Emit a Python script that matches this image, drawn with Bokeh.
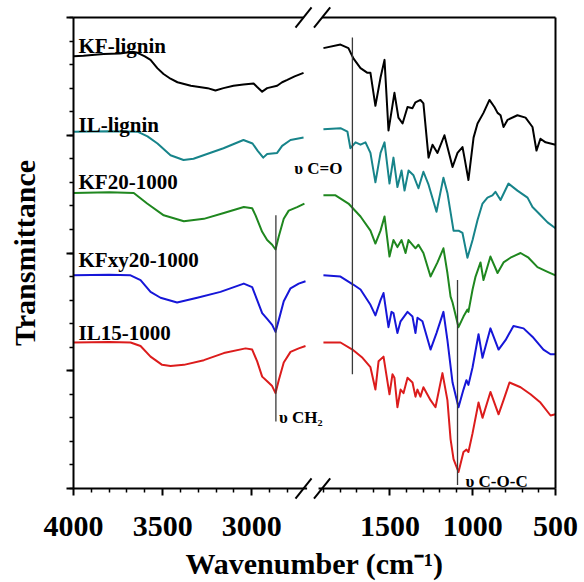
from bokeh.plotting import figure
from bokeh.models import (Range1d, LinearAxis, SingleIntervalTicker, FixedTicker, Label,
                          CustomJSTickFormatter)
from bokeh.embed import file_html
from bokeh.resources import INLINE

# ---------------- data (wavenumber cm-1, transmittance, offset stacked) ----------------
names = ["KF-lignin", "IL-lignin", "KF20-1000", "KFxy20-1000", "IL15-1000"]

kf_lw = [4000, 3944, 3832, 3740, 3669, 3641, 3600, 3568, 3530, 3495, 3456, 3417, 3342, 3248,
         3204, 3159, 3103, 3047, 2990, 2970, 2942, 2914, 2858, 2830, 2801, 2760, 2710]
kf_lt = [3.67, 3.675, 3.69, 3.695, 3.71, 3.70, 3.67, 3.64, 3.57, 3.52, 3.48, 3.45, 3.42, 3.40,
         3.38, 3.40, 3.42, 3.43, 3.44, 3.41, 3.37, 3.40, 3.42, 3.45, 3.47, 3.50, 3.53]
kf_rw = [1902, 1799, 1751, 1720, 1678, 1636, 1618, 1588, 1557, 1533, 1509, 1473, 1449, 1424,
         1394, 1364, 1346, 1316, 1298, 1267, 1243, 1213, 1171, 1122, 1092, 1062, 1050, 1026,
         995, 971, 935, 899, 869, 850, 832, 814, 790, 730, 681, 639, 615, 591, 560, 530, 500]
kf_rt = [3.74, 3.77, 3.74, 3.65, 3.57, 3.53, 3.53, 3.25, 3.49, 3.64, 3.04, 3.36, 3.15, 3.10,
         3.24, 3.23, 3.28, 3.30, 3.27, 2.81, 2.92, 2.85, 3.00, 2.73, 2.85, 2.90, 2.81, 2.62,
         2.98, 3.10, 3.19, 3.30, 3.24, 3.19, 3.17, 3.07, 3.13, 3.17, 3.15, 3.07, 2.87, 2.97,
         2.94, 2.93, 2.92]

il_lw = [4000, 3800, 3641, 3585, 3529, 3456, 3383, 3327, 3271, 3159, 3047, 2996, 2968, 2936,
         2914, 2858, 2830, 2783, 2710]
il_lt = [3.03, 3.035, 3.03, 2.99, 2.93, 2.83, 2.79, 2.80, 2.83, 2.89, 2.96, 2.93, 2.87, 2.81,
         2.84, 2.85, 2.91, 2.96, 2.98]
il_rw = [1902, 1799, 1757, 1739, 1708, 1678, 1648, 1618, 1588, 1557, 1533, 1503, 1479, 1455,
         1430, 1412, 1388, 1358, 1328, 1298, 1267, 1219, 1177, 1153, 1116, 1086, 1062, 1032,
         1001, 971, 941, 911, 881, 863, 832, 784, 730, 669, 639, 603, 548, 500]
il_rt = [3.05, 3.06, 3.03, 2.89, 2.94, 2.92, 2.94, 2.85, 2.60, 2.85, 2.94, 2.59, 2.81, 2.56,
         2.70, 2.53, 2.70, 2.66, 2.55, 2.69, 2.58, 2.35, 2.64, 2.51, 2.19, 2.19, 2.17, 1.96,
         2.11, 2.28, 2.42, 2.47, 2.49, 2.52, 2.45, 2.59, 2.53, 2.47, 2.39, 2.34, 2.26, 2.21]

kf20_lw = [4000, 3800, 3662, 3587, 3494, 3381, 3269, 3157, 3045, 2998, 2979, 2942, 2914, 2886,
           2867, 2849, 2821, 2793, 2746, 2705]
kf20_lt = [2.51, 2.515, 2.51, 2.42, 2.32, 2.27, 2.29, 2.34, 2.39, 2.38, 2.32, 2.18, 2.11, 2.07,
           2.03, 2.14, 2.29, 2.36, 2.39, 2.42]
kf20_rw = [1902, 1829, 1751, 1678, 1618, 1588, 1557, 1533, 1503, 1479, 1455, 1430, 1406, 1388,
           1346, 1328, 1298, 1255, 1213, 1177, 1153, 1134, 1122, 1086, 1056, 1032, 1026, 1001,
           983, 953, 935, 893, 850, 814, 772, 711, 663, 609, 548, 500]
kf20_rt = [2.49, 2.49, 2.42, 2.31, 2.19, 2.08, 2.19, 2.31, 1.97, 2.11, 2.05, 2.11, 2.00, 2.11,
           2.04, 2.07, 2.00, 1.80, 1.92, 2.04, 1.83, 1.63, 1.58, 1.37, 1.46, 1.52, 1.50, 1.69,
           1.80, 1.92, 1.77, 1.97, 1.83, 1.92, 1.96, 2.00, 1.96, 1.88, 1.84, 1.81]

kfxy_lw = [4000, 3800, 3680, 3624, 3568, 3512, 3419, 3306, 3176, 3045, 2998, 2970, 2942, 2914,
           2886, 2867, 2849, 2821, 2783, 2737, 2699]
kfxy_lt = [1.81, 1.815, 1.81, 1.77, 1.67, 1.62, 1.58, 1.62, 1.67, 1.74, 1.71, 1.60, 1.49, 1.44,
           1.39, 1.33, 1.43, 1.59, 1.70, 1.74, 1.76]
kfxy_rw = [1902, 1799, 1720, 1678, 1618, 1588, 1557, 1539, 1509, 1491, 1479, 1455, 1436, 1394,
           1364, 1346, 1334, 1304, 1255, 1219, 1177, 1153, 1122, 1086, 1056, 1038, 1026, 1001,
           965, 941, 893, 844, 802, 754, 693, 633, 573, 530, 500]
kfxy_rt = [1.81, 1.80, 1.73, 1.69, 1.56, 1.47, 1.60, 1.66, 1.37, 1.50, 1.49, 1.32, 1.42, 1.50,
           1.46, 1.32, 1.45, 1.42, 1.18, 1.32, 1.50, 1.26, 0.90, 0.69, 0.84, 0.92, 0.88, 1.03,
           1.31, 1.11, 1.36, 1.18, 1.26, 1.38, 1.36, 1.28, 1.18, 1.14, 1.14]

il15_lw = [4000, 3800, 3680, 3624, 3568, 3503, 3456, 3381, 3269, 3157, 3035, 2998, 2970, 2942,
           2914, 2886, 2867, 2849, 2821, 2783, 2737, 2699]
il15_lt = [1.24, 1.245, 1.24, 1.21, 1.12, 1.05, 1.04, 1.05, 1.09, 1.15, 1.19, 1.18, 1.08, 0.95,
           0.91, 0.87, 0.81, 0.92, 1.07, 1.16, 1.19, 1.21]
il15_rw = [1902, 1799, 1727, 1666, 1618, 1588, 1569, 1539, 1503, 1485, 1473, 1455, 1436, 1418,
           1394, 1364, 1346, 1334, 1316, 1298, 1255, 1225, 1183, 1153, 1134, 1116, 1086, 1056,
           1038, 1026, 1001, 965, 941, 893, 844, 814, 778, 711, 651, 591, 530, 500]
il15_rt = [1.24, 1.24, 1.18, 1.11, 1.03, 0.84, 1.08, 1.12, 0.80, 0.97, 0.94, 0.69, 0.84, 0.81,
           0.94, 0.90, 0.78, 0.84, 0.78, 0.86, 0.75, 0.69, 0.98, 0.75, 0.42, 0.25, 0.14, 0.31,
           0.33, 0.31, 0.47, 0.73, 0.60, 0.82, 0.63, 0.75, 0.90, 0.86, 0.80, 0.73, 0.62, 0.63]

# band assignments (wavenumber, vertical extent in transmittance units)
band_labels = ["\u03c5 C=O", "\u03c5 CH\u2082", "\u03c5 C-O-C"]
band_w = [1727, 2865, 1092]
band_lo = [0.97, 0.57, 0.03]
band_hi = [3.83, 2.32, 1.77]

# axis segments and ticks (cm-1)
left_seg = (2710, 4000)
right_seg = (500, 1910)
left_major = [4000, 3500, 3000]
left_minor = [3900, 3800, 3700, 3600, 3400, 3300, 3200, 3100, 2900, 2800]
right_major = [1500, 1000, 500]
right_minor = [1900, 1800, 1700, 1600, 1400, 1300, 1200, 1100, 900, 800, 700, 600]

colors = ["#000000", "#17848a", "#1f871f", "#1616d8", "#dc1c1c"]

FONT = "Liberation Serif"

left_range = Range1d(4000, 1297)
right_range = Range1d(3412, 500)
y_range = Range1d(0, 4)

p = figure(width=584, height=582, output_backend="svg", toolbar_location=None,
           x_range=left_range, y_range=y_range,
           x_axis_type=None, y_axis_type=None,
           min_border_left=73, min_border_right=29, min_border_top=17, min_border_bottom=93)
p.extra_x_ranges = {"right": right_range}
p.outline_line_color = None
p.background_fill_color = "white"
p.border_fill_color = "white"


def right_to_left(w):
    # position of a right-segment wavenumber expressed in the main (left) range
    return left_range.start - (right_range.start - w) * (left_range.start - left_range.end) / (
        right_range.start - right_range.end)


cut = (left_seg[0] + right_to_left(right_seg[1])) / 2

ticker = FixedTicker(ticks=left_major + [right_to_left(w) for w in right_major],
                     minor_ticks=left_minor + [right_to_left(w) for w in right_minor])
formatter = CustomJSTickFormatter(args=dict(lr=left_range, rr=right_range, cut=cut), code="""
    let w = tick;
    if (tick < cut) {
        w = rr.start - (lr.start - tick) * (rr.start - rr.end) / (lr.start - lr.end);
    }
    return (Math.round(w / 100) * 100).toString();
""")

ax_x = LinearAxis(ticker=ticker, formatter=formatter, axis_label="Wavenumber (cm\u207b\u00b9)")
ax_y = LinearAxis(ticker=SingleIntervalTicker(interval=1, num_minor_ticks=5),
                  formatter=CustomJSTickFormatter(code="return '';"),
                  axis_label="Transmittance")
for ax in (ax_x, ax_y):
    ax.axis_line_width = 2
    ax.axis_line_color = "black"
    ax.major_tick_line_width = 2
    ax.minor_tick_line_width = 1.5
    ax.major_tick_out = 7
    ax.major_tick_in = 0
    ax.minor_tick_out = 4
    ax.minor_tick_in = 0
    ax.major_label_text_font = FONT
    ax.major_label_text_font_style = "bold"
    ax.major_label_text_color = "black"
    ax.major_label_text_font_size = "30px"
    ax.axis_label_text_font = FONT
    ax.axis_label_text_font_style = "bold"
    ax.axis_label_text_font_size = "30px"
    ax.axis_label_text_color = "black"
ax_x.major_label_standoff = 21
ax_x.axis_label_standoff = 8
ax_y.major_label_standoff = 0
ax_y.axis_label_standoff = 26
p.add_layout(ax_x, "below")
p.add_layout(ax_y, "left")

# spectra
series = [
    (kf_lw, kf_lt, kf_rw, kf_rt),
    (il_lw, il_lt, il_rw, il_rt),
    (kf20_lw, kf20_lt, kf20_rw, kf20_rt),
    (kfxy_lw, kfxy_lt, kfxy_rw, kfxy_rt),
    (il15_lw, il15_lt, il15_rw, il15_rt),
]
for (lw, lt, rw, rt), col in zip(series, colors):
    p.line(lw, lt, line_color=col, line_width=2, line_join="round")
    p.line(rw, rt, line_color=col, line_width=2, line_join="round", x_range_name="right")

# band marker lines
ann_col = "#3a3a3a"
p.segment(x0=[band_w[0], band_w[2]], y0=[band_lo[0], band_lo[2]],
          x1=[band_w[0], band_w[2]], y1=[band_hi[0], band_hi[2]],
          line_color=ann_col, line_width=1.3, x_range_name="right")
p.segment(x0=[band_w[1]], y0=[band_lo[1]], x1=[band_w[1]], y1=[band_hi[1]],
          line_color=ann_col, line_width=1.3)

# band texts
p.add_layout(Label(x=band_w[0], y=2.72, x_offset=-10, text=band_labels[0], x_range_name="right",
                   text_align="right", text_baseline="alphabetic", text_font=FONT,
                   text_font_style="bold", text_font_size="17px", text_color="black"))
p.add_layout(Label(x=band_w[1], y=0.60, x_offset=3, text=band_labels[1],
                   text_align="left", text_baseline="alphabetic", text_font=FONT,
                   text_font_style="bold", text_font_size="17px", text_color="black"))
p.add_layout(Label(x=band_w[2], y=0.06, x_offset=8, text=band_labels[2], x_range_name="right",
                   text_align="left", text_baseline="alphabetic", text_font=FONT,
                   text_font_style="bold", text_font_size="17px", text_color="black"))

# sample names
name_y = [3.76, 3.09, 2.60, 1.94, 1.32]
for nm, ny in zip(names, name_y):
    p.add_layout(Label(x=left_range.start, y=ny, x_offset=5, text=nm, text_align="left",
                       text_baseline="alphabetic", text_font=FONT, text_font_style="bold",
                       text_font_size="21px", text_color="black"))

# frame: top border (two segments) and right border, drawn above the data
p.segment(x0=[left_range.start], y0=[y_range.end], x1=[left_seg[0]], y1=[y_range.end],
          line_color="black", line_width=2, level="overlay")
p.segment(x0=[right_seg[1], right_range.end], y0=[y_range.end, y_range.start],
          x1=[right_range.end, right_range.end], y1=[y_range.end, y_range.end],
          line_color="black", line_width=2, level="overlay", x_range_name="right")

# axis break marks (white gap + two slashes) at top and bottom
dx_l = 45
dx_r = 49
dy = 0.085
gap = [left_seg[0] - 20, right_to_left(right_seg[1]) + 20]
for yb in (y_range.start, y_range.end):
    p.segment(x0=[gap[0]], y0=[yb], x1=[gap[1]], y1=[yb], line_color="white", line_width=5,
              level="overlay")
    p.segment(x0=[left_seg[0] + dx_l], y0=[yb - dy], x1=[left_seg[0] - dx_l], y1=[yb + dy],
              line_color="black", line_width=2, level="overlay")
    p.segment(x0=[right_seg[1] + dx_r], y0=[yb - dy], x1=[right_seg[1] - dx_r], y1=[yb + dy],
              line_color="black", line_width=2, level="overlay", x_range_name="right")

open("out.html", "w").write(file_html(p, INLINE))
